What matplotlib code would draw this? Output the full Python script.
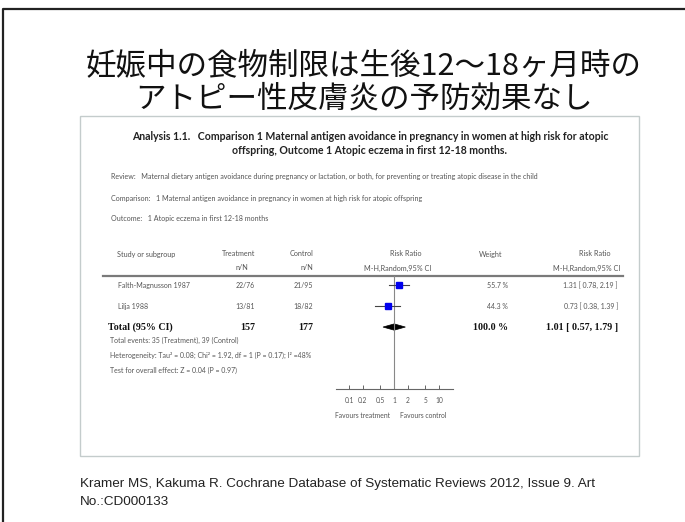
import matplotlib.pyplot as plt
import matplotlib.transforms as mtransforms
from matplotlib.patches import Rectangle, Polygon
import numpy as np

# slide text
title_lines = ['妊娠中の食物制限は生後12～18ヶ月時の', 'アトピー性皮膚炎の予防効果なし']
citation = ['Kramer MS, Kakuma R. Cochrane Database of Systematic Reviews 2012, Issue 9. Art',
            'No.:CD000133']

# forest plot text
analysis_title = ['Analysis 1.1.   Comparison 1 Maternal antigen avoidance in pregnancy in women at high risk for atopic',
                  'offspring, Outcome 1 Atopic eczema in first 12-18 months.']
review = 'Review:   Maternal dietary antigen avoidance during pregnancy or lactation, or both, for preventing or treating atopic disease in the child'
comparison = 'Comparison:   1 Maternal antigen avoidance in pregnancy in women at high risk for atopic offspring'
outcome = 'Outcome:   1 Atopic eczema in first 12-18 months'

# study data
studies = ['Falth-Magnusson 1987', 'Lilja 1988']
treat_nN = ['22/76', '13/81']
ctrl_nN = ['21/95', '18/82']
rr = [1.31, 0.73]
rr_lo = [0.78, 0.38]
rr_hi = [2.19, 1.39]
weight = [55.7, 44.3]

total_treat = 157
total_ctrl = 177
total_rr = 1.01
total_lo = 0.57
total_hi = 1.79
total_weight = 100.0

footnotes = ['Total events: 35 (Treatment), 39 (Control)',
             'Heterogeneity: Tau² = 0.08; Chi² = 1.92, df = 1 (P = 0.17); I² =48%',
             'Test for overall effect: Z = 0.04 (P = 0.97)']

x_ticks = [0.1, 0.2, 0.5, 1, 2, 5, 10]
x_tick_labels = ['0.1', '0.2', '0.5', '1', '2', '5', '10']

W, H = 685, 522
fig = plt.figure(figsize=(W / 100, H / 100), dpi=100)

bg = fig.add_axes([0, 0, 1, 1])
bg.set_xlim(0, W)
bg.set_ylim(H, 0)
bg.axis('off')

# slide frame (left + top edges visible)
bg.plot([3, 3, W], [H, 9, 9], color='#222', lw=1.6, solid_capstyle='butt')

# title
for i, line in enumerate(title_lines):
    bg.text(364, 66 + 33 * i, line, ha='center', va='center', fontsize=22,
            family=['Noto Sans CJK JP', 'DejaVu Sans'], color='#111')

# panel with the Cochrane figure
bg.add_patch(Rectangle((80, 116), 559, 340, facecolor='white', edgecolor='#c4cccc', lw=1.0))

gs_font = ['Lato', 'DejaVu Sans']
grey = '#555555'
bg.text(370, 136, analysis_title[0], ha='center', va='center', fontsize=7.6,
        family=gs_font, fontweight='bold', color='#222')
bg.text(370, 151, analysis_title[1], ha='center', va='center', fontsize=7.6,
        family=gs_font, fontweight='bold', color='#222')
bg.text(111, 176, review, ha='left', va='center', fontsize=5.1, family=gs_font, color=grey)
bg.text(111, 198, comparison, ha='left', va='center', fontsize=5.1, family=gs_font, color=grey)
bg.text(111, 219, outcome, ha='left', va='center', fontsize=5.1, family=gs_font, color=grey)

# column headers
hs = dict(fontsize=5.2, family=gs_font, color=grey, va='center')
bg.text(117, 254, 'Study or subgroup', ha='left', **hs)
bg.text(239, 254, 'Treatment', ha='center', **hs)
bg.text(248, 268, 'n/N', ha='right', **hs)
bg.text(302, 254, 'Control', ha='center', **hs)
bg.text(313, 268, 'n/N', ha='right', **hs)
bg.text(406, 254, 'Risk Ratio', ha='center', **hs)
bg.text(398, 268, 'M-H,Random,95% CI', ha='center', **hs)
bg.text(491, 254, 'Weight', ha='center', **hs)
bg.text(595, 254, 'Risk Ratio', ha='center', **hs)
bg.text(620, 268, 'M-H,Random,95% CI', ha='right', **hs)
bg.plot([103, 623], [276, 276], color='#7a7a7a', lw=1.6)

# forest axes: x=1 at px 394, 45 px per decade
left_px, right_px, top_px, bot_px = 335.5, 452.5, 276, 389
ax = fig.add_axes([left_px / W, 1 - bot_px / H, (right_px - left_px) / W, (bot_px - top_px) / H])
ax.set_xscale('log')
ax.set_xlim(0.05, 20)
ax.set_ylim(4.95, -0.43)
ax.patch.set_alpha(0)
for s in ['top', 'left', 'right']:
    ax.spines[s].set_visible(False)
ax.spines['bottom'].set_color('#666')
ax.spines['bottom'].set_linewidth(0.8)
ax.set_yticks([])
ax.set_xticks(x_ticks)
ax.set_xticklabels(x_tick_labels)
ax.minorticks_off()
ax.tick_params(axis='x', direction='in', length=3, width=0.7, color='#666',
               labelsize=4.8, labelcolor=grey, pad=6)
for lab in ax.get_xticklabels():
    lab.set_family(gs_font)
ax.axvline(1, color='#888', lw=0.8)

rows = np.arange(len(studies))
for i in rows:
    ax.plot([rr_lo[i], rr_hi[i]], [i, i], color='#444', lw=0.8)
    ax.plot(rr[i], i, marker='s', ms=5.0 * np.sqrt(weight[i] / 55.7), color='#0000ee', mec='#0000ee')
yt = len(studies)
ax.add_patch(Polygon([(total_lo, yt), (total_rr, yt - 0.15), (total_hi, yt), (total_rr, yt + 0.15)],
                     closed=True, facecolor='black', edgecolor='black', lw=0.5))

# row texts aligned to the forest rows
tr = mtransforms.blended_transform_factory(bg.transData, ax.transData)
rs = dict(fontsize=5.0, family=gs_font, color=grey, va='center', transform=tr)
for i in rows:
    bg.text(118, i, studies[i], ha='left', **rs)
    bg.text(255, i, treat_nN[i], ha='right', **rs)
    bg.text(313, i, ctrl_nN[i], ha='right', **rs)
    bg.text(508, i, f'{weight[i]:.1f} %', ha='right', **rs)
    bg.text(618, i, f'{rr[i]:.2f} [ {rr_lo[i]:.2f}, {rr_hi[i]:.2f} ]', ha='right', **rs)

ts = dict(fontsize=7.2, family=['Liberation Serif', 'DejaVu Serif'], fontweight='bold',
          color='#111', va='center', transform=tr)
bg.text(108, yt, 'Total (95% CI)', ha='left', **ts)
bg.text(255, yt, str(total_treat), ha='right', **ts)
bg.text(313, yt, str(total_ctrl), ha='right', **ts)
bg.text(508, yt, f'{total_weight:.1f} %', ha='right', **ts)
bg.text(618, yt, f'{total_rr:.2f} [ {total_lo:.2f}, {total_hi:.2f} ]', ha='right', **ts)

for k, line in enumerate(footnotes):
    bg.text(110, 340 + 15 * k, line, ha='left', va='center', fontsize=5.0, family=gs_font, color=grey)

bg.text(363, 416, 'Favours treatment', ha='center', va='center', fontsize=4.9, family=gs_font, color=grey)
bg.text(423, 416, 'Favours control', ha='center', va='center', fontsize=4.9, family=gs_font, color=grey)

# citation
for k, line in enumerate(citation):
    bg.text(80, 484 + 18 * k, line, ha='left', va='center', fontsize=9.7,
            family=['Liberation Sans', 'DejaVu Sans'], color='#222')

fig.savefig('out.png', dpi=100)
